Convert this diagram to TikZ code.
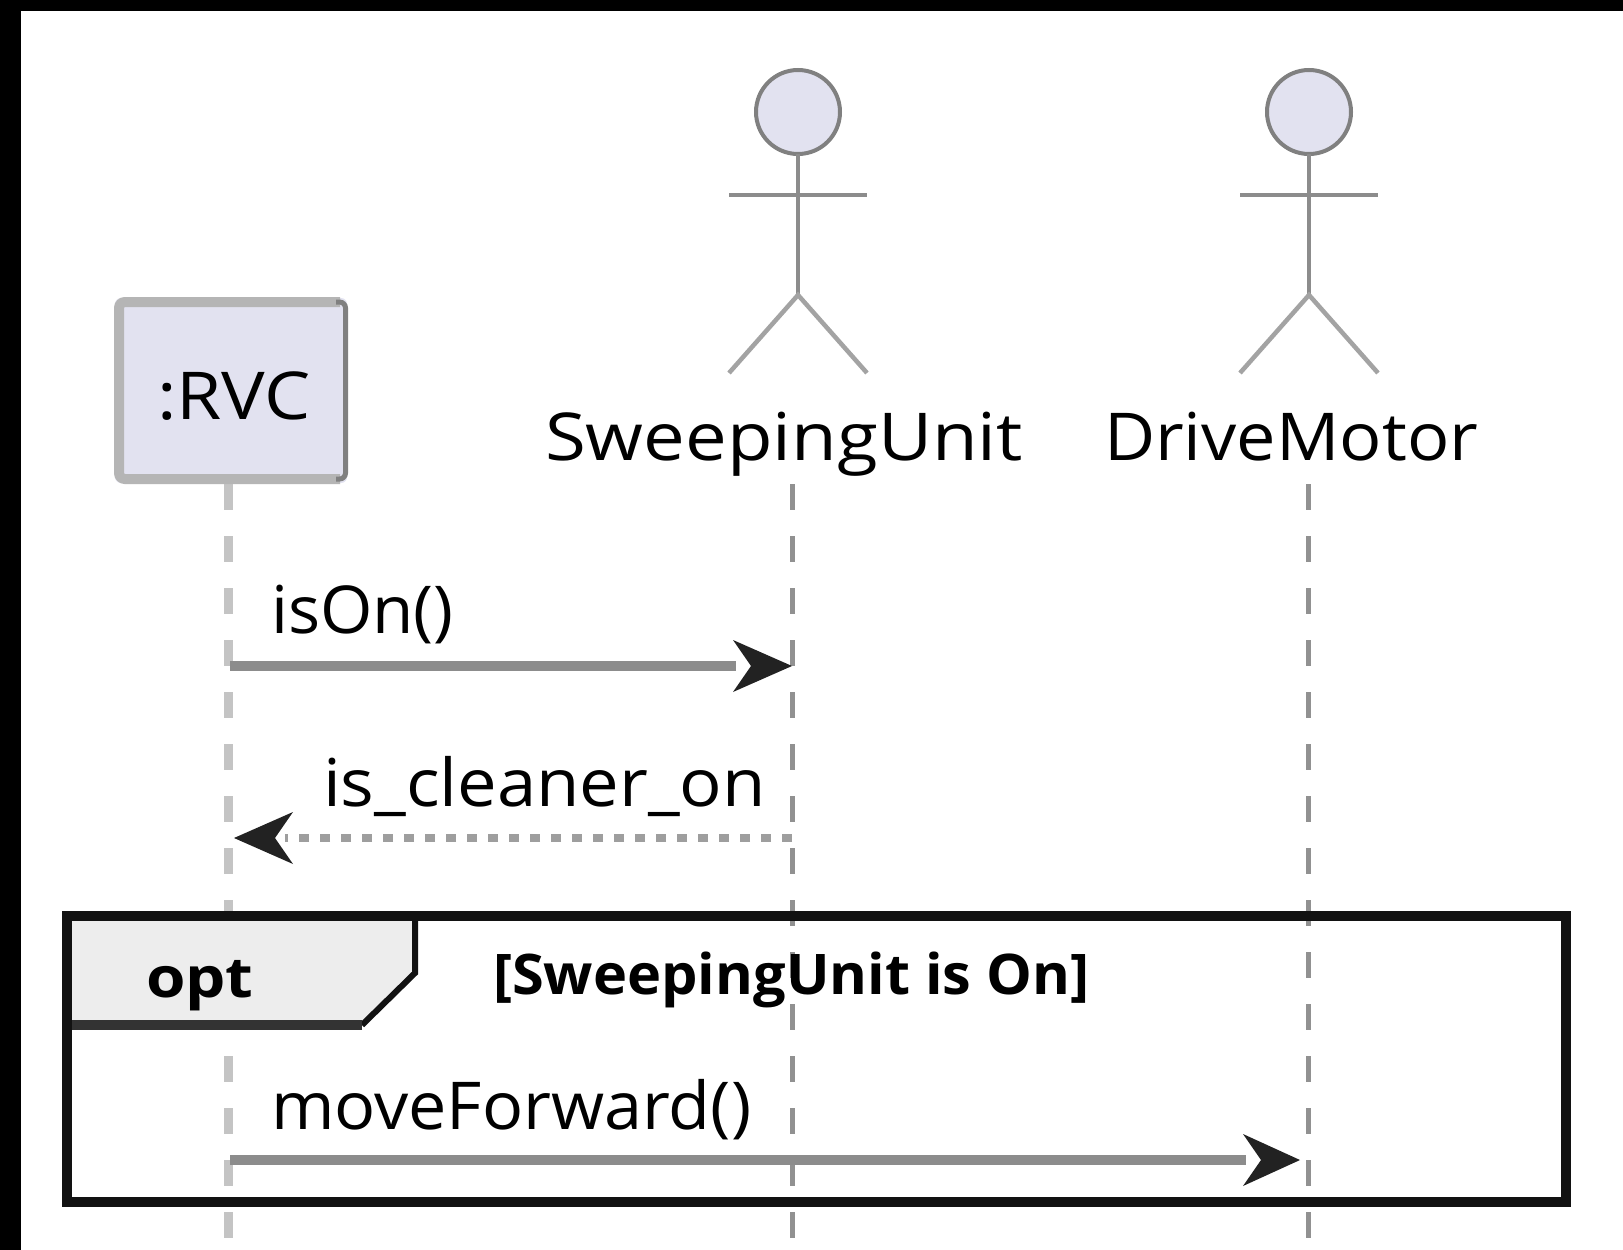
\documentclass[tikz,border=0pt]{standalone}
\usepackage{fontspec}
\setmainfont{Open Sans}
\usetikzlibrary{arrows.meta}
\definecolor{boxfill}{HTML}{E2E2F0}
\definecolor{lineg}{HTML}{8C8C8C}
\definecolor{headd}{HTML}{222222}
\newcommand{\widened}[1]{\addfontfeature{FakeStretch=#1}}
\tikzset{
  x=1pt,y=-1pt,
  every node/.style={inner sep=0pt,outer sep=0pt,text=black},
  actorline/.style={draw=lineg,line width=4.5pt},
  actorleg/.style={draw=black!36,line width=4.5pt},
  lifeline/.style={draw=black!43,line width=5pt,dash pattern=on 26pt off 26pt},
  lifelinelight/.style={draw=black!23,line width=9pt,dash pattern=on 26pt off 26pt},
  msg/.style={draw=lineg,line width=10pt},
  msgdot/.style={draw=black!38,line width=8pt,dash pattern=on 10pt off 11pt},
  lbl/.style={font=\fontsize{66}{66}\selectfont,anchor=base west},
  bold/.style={font=\fontsize{56}{56}\selectfont\bfseries,anchor=base west},
  headshape/.style={fill=headd,draw=none},
  actorhead/.style={circle,draw=black!50,fill=boxfill,line width=4pt,minimum size=84pt}
}
\begin{document}
\begin{tikzpicture}
\useasboundingbox (0,0) rectangle (1623,1250);
\fill[white] (0,0) rectangle (1623,1250);
\fill[black] (0,0) rectangle (1623,11);
\fill[black] (0,0) rectangle (21,1250);
% anchors
\coordinate (rvcTop) at (228,484);
\coordinate (rvcEnd) at (228,1238);
\coordinate (suTop) at (792,484);
\coordinate (suEnd) at (792,1238);
\coordinate (dmTop) at (1308,484);
\coordinate (dmEnd) at (1308,1238);
% lifelines
\draw[lifelinelight] (rvcTop) -- (rvcEnd);
\draw[lifeline] (suTop) -- (suEnd);
\draw[lifeline] (dmTop) -- (dmEnd);
% RVC box
\node[fill=boxfill,rounded corners=6pt,minimum width=232pt,minimum height=185pt] (rvc) at (231,390.5) {};
\draw[draw=black!29,line width=10pt,rounded corners=6pt] (340,302) -- (119,302) -- (119,479) -- (340,479);
\draw[draw=black!50,line width=5pt,rounded corners=6pt] (336,302) -- (345.5,302) -- (345.5,479) -- (336,479);
\node[lbl] (rvclabel) at (157,419) {\widened{1.11}:RVC};
% actors
\node[actorhead] (h1) at (798,112) {};
\coordinate (b1) at (798,295);
\draw[actorline] (h1.south) -- (b1);
\coordinate (a1l) at (729,195); \coordinate (a1r) at (867,195);
\draw[actorline] (a1l) -- (a1r);
\coordinate (l1l) at (729,373); \coordinate (l1r) at (867,373);
\draw[actorleg] (l1l) -- (b1) -- (l1r);
\node[actorhead] (h2) at (1309,112) {};
\coordinate (b2) at (1309,295);
\draw[actorline] (h2.south) -- (b2);
\coordinate (a2l) at (1240,195); \coordinate (a2r) at (1378,195);
\draw[actorline] (a2l) -- (a2r);
\coordinate (l2l) at (1240,373); \coordinate (l2r) at (1378,373);
\draw[actorleg] (l2l) -- (b2) -- (l2r);
\node[lbl] (su) at (545,460) {\widened{1.127}SweepingUnit};
\node[lbl] (dm) at (1104,460) {\widened{1.065}DriveMotor};
% messages
\node[lbl] (m1) at (271,633) {\widened{1.02}isOn()};
\coordinate (m1s) at (230,666); \coordinate (m1e) at (736,666);
\draw[msg] (m1s) -- (m1e);
\fill[headshape] (792,666) -- (733,640) -- (751,666) -- (733,692) -- cycle;
\node[lbl] (m2) at (323,806) {\widened{1.07}is\_cleaner\_on};
\coordinate (m2s) at (792,838); \coordinate (m2e) at (285,838);
\draw[msgdot] (m2s) -- (m2e);
\fill[headshape] (234,838) -- (293,812) -- (275,838) -- (293,864) -- cycle;
% frame
\fill[black!7] (67,916) -- (415,916) -- (415,973) -- (362,1025) -- (67,1025) -- cycle;
\draw[black!93,line width=6pt] (415,916) -- (415,973) -- (362,1025);
\draw[black!80,line width=10pt] (362,1025) -- (67,1025);
\draw[black!93,line width=10pt] (67,916) rectangle (1566,1202);
\node[bold] (opt) at (146,997) {\widened{1.14}opt};
\node[bold] (guard) at (493,994) {\widened{1.03}[SweepingUnit is On]};
\node[lbl] (m3) at (271,1129) {\widened{1.035}moveForward()};
\coordinate (m3s) at (230,1160); \coordinate (m3e) at (1246,1160);
\draw[msg] (m3s) -- (m3e);
\fill[headshape] (1300,1160) -- (1243,1134) -- (1261,1160) -- (1243,1186) -- cycle;
\end{tikzpicture}
\end{document}
